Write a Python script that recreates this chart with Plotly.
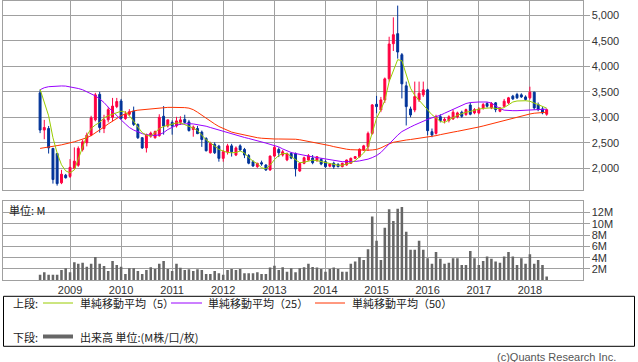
import pandas as pd
import plotly.graph_objects as go

W, H = 638, 362

# ---- data (monthly, Jun 2008 - May 2018) ----
months = pd.date_range("2008-06-01", periods=120, freq="MS").strftime("%Y-%m-%d").tolist()

opens = [3480, 2750, 2780, 2390, 2290, 1715, 1865, 1840, 2000, 2060,
         2370, 2500, 2650, 2950, 3450, 2780, 2950, 3000, 3210, 3320,
         2975, 3060, 3125, 2860, 2600, 2400, 2630, 2600, 2640, 3020,
         2830, 2900, 2830, 2900, 2960, 2910, 2760, 2780, 2710, 2585,
         2305, 2470, 2435, 2195, 2324, 2440, 2260, 2440, 2370, 2250,
         2130, 2032, 2110, 2065, 1968, 2240, 2370, 2260, 2165, 2290,
         2290, 1948, 2097, 2162, 2200, 2150, 2175, 2130, 2040, 2100,
         2078, 2032, 2065, 2098, 2196, 2229, 2357, 2425, 2685, 3256,
         3144, 3341, 3754, 4443, 4640, 4227, 3617, 3164, 3144, 3341,
         3440, 3538, 2718, 2685, 3013, 2935, 2940, 2967, 3007, 3100,
         3053, 3240, 3086, 3086, 3184, 3270, 3184, 3283, 3118, 3217,
         3283, 3415, 3447, 3440, 3400, 3382, 3493, 3250, 3165, 3060]
highs = [3540, 2950, 2830, 2400, 2300, 1970, 1890, 2180, 2410, 2430,
         2560, 2700, 3030, 3480, 3500, 3050, 3200, 3380, 3380, 3360,
         3120, 3160, 3210, 2880, 2610, 2680, 2720, 2740, 3060, 3220,
         2900, 2940, 3010, 3020, 3050, 2950, 2840, 2830, 2740, 2610,
         2520, 2510, 2460, 2360, 2480, 2480, 2430, 2470, 2400, 2280,
         2160, 2110, 2150, 2080, 2250, 2450, 2410, 2360, 2310, 2320,
         2310, 2120, 2230, 2280, 2260, 2240, 2200, 2160, 2100, 2130,
         2100, 2110, 2170, 2210, 2240, 2390, 2460, 2720, 3260, 3420,
         3400, 3780, 4580, 4960, 5190, 4260, 3700, 3210, 3700, 3700,
         3700, 3560, 2780, 3050, 3060, 3000, 3040, 3150, 3110, 3130,
         3170, 3290, 3180, 3200, 3280, 3300, 3300, 3300, 3200, 3360,
         3400, 3440, 3480, 3470, 3430, 3600, 3500, 3290, 3200, 3170]
lows = [2690, 2570, 2290, 1700, 1660, 1690, 1800, 1810, 1980, 2030,
        2330, 2430, 2630, 2920, 2700, 2690, 2900, 2920, 3180, 2960,
        2950, 3030, 2830, 2575, 2380, 2310, 2600, 2580, 2620, 2660,
        2800, 2660, 2800, 2850, 2880, 2720, 2620, 2670, 2420, 2330,
        2290, 2280, 2130, 2130, 2270, 2230, 2240, 2340, 2200, 2080,
        2030, 2010, 2050, 1950, 1950, 2220, 2220, 2230, 2140, 2180,
        1840, 1930, 2080, 2150, 2080, 2130, 2060, 2010, 2020, 1990,
        2020, 2020, 2050, 2090, 2180, 2210, 2340, 2340, 2660, 3080,
        3100, 3280, 3700, 4300, 4150, 3370, 2840, 3000, 3100, 3300,
        3400, 2650, 2610, 2660, 2900, 2880, 2900, 2950, 2980, 2990,
        3030, 3040, 3060, 3060, 3150, 3190, 3160, 3100, 3100, 3200,
        3260, 3340, 3360, 3380, 3330, 3350, 3150, 3120, 3060, 3030]
closes = [2750, 2800, 2400, 1780, 1700, 1885, 1815, 2020, 2140, 2390,
          2520, 2650, 2990, 3440, 2800, 2950, 3150, 3220, 3310, 2980,
          3060, 3110, 2860, 2600, 2400, 2660, 2690, 2720, 3000, 2830,
          2950, 2830, 2930, 2950, 2900, 2740, 2810, 2680, 2565, 2345,
          2490, 2305, 2195, 2325, 2440, 2325, 2400, 2360, 2260, 2100,
          2045, 2097, 2085, 1968, 2240, 2410, 2305, 2325, 2290, 2200,
          1990, 2097, 2208, 2246, 2110, 2227, 2084, 2032, 2085, 2032,
          2032, 2098, 2163, 2196, 2229, 2373, 2440, 2685, 3243, 3210,
          3341, 3754, 4437, 4620, 4280, 3656, 3210, 3046, 3407, 3472,
          3538, 2738, 2653, 3013, 2935, 2960, 3010, 3100, 3086, 3020,
          3151, 3060, 3151, 3165, 3250, 3217, 3270, 3151, 3184, 3316,
          3382, 3362, 3382, 3400, 3350, 3493, 3184, 3151, 3086, 3150]

ma5 = [3550, 3300, 3030, 2600, 2300, 2070, 1950, 1910, 1970, 2180,
       2420, 2640, 2780, 2850, 2900, 2990, 3030, 3060, 3090, 3120,
       3100, 3030, 2920, 2800, 2700, 2650, 2630, 2700, 2780, 2820,
       2840, 2870, 2890, 2890, 2860, 2820, 2790, 2740, 2640, 2560,
       2500, 2430, 2370, 2340, 2310, 2305, 2310, 2340, 2300, 2210,
       2140, 2090, 2010, 1990, 2060, 2170, 2250, 2290, 2290, 2230,
       2160, 2110, 2120, 2140, 2160, 2150, 2130, 2110, 2090, 2070,
       2060, 2060, 2080, 2110, 2150, 2220, 2300, 2420, 2700, 2980,
       3150, 3330, 3700, 3910, 4130, 4110, 3830, 3570, 3430, 3330,
       3250, 3140, 3050, 2990, 2920, 2900, 2950, 3000, 3040, 3070,
       3100, 3115, 3140, 3160, 3175, 3185, 3185, 3175, 3170, 3190,
       3250, 3300, 3320, 3325, 3325, 3315, 3280, 3235, 3200, 3180]
ma25 = [3540, 3580, 3600, 3610, 3615, 3615, 3612, 3600, 3585, 3565,
        3540, 3505, 3465, 3420, 3360, 3290, 3200, 3110, 3030, 2950,
        2870, 2800, 2750, 2710, 2680, 2660, 2645, 2640, 2660, 2700,
        2760, 2810, 2845, 2865, 2872, 2875, 2870, 2860, 2845, 2825,
        2800, 2775, 2745, 2715, 2690, 2665, 2645, 2625, 2605, 2585,
        2565, 2545, 2520, 2495, 2470, 2450, 2420, 2380, 2340, 2310,
        2290, 2270, 2255, 2240, 2225, 2210, 2195, 2180, 2160, 2145,
        2135, 2130, 2130, 2130, 2135, 2145, 2160, 2180, 2210, 2250,
        2310, 2390, 2480, 2580, 2650, 2720, 2770, 2810, 2850, 2890,
        2930, 2960, 2990, 3010, 3040, 3080, 3120, 3160, 3200, 3240,
        3270, 3290, 3300, 3300, 3300, 3300, 3280, 3230, 3170, 3140,
        3130, 3130, 3130, 3135, 3140, 3145, 3155, 3160, 3160, 3160]
ma50 = [2390, 2400, 2415, 2430, 2445, 2460, 2475, 2500, 2520, 2545,
        2570, 2600, 2640, 2690, 2750, 2810, 2870, 2930, 2980, 3030,
        3070, 3100, 3125, 3140, 3150, 3160, 3170, 3180, 3185, 3190,
        3195, 3195, 3195, 3195, 3190, 3180, 3150, 3100, 3040, 2980,
        2920, 2870, 2820, 2780, 2740, 2710, 2690, 2670, 2650, 2630,
        2615, 2600, 2590, 2580, 2575, 2575, 2575, 2575, 2575, 2575,
        2570, 2560, 2545, 2530, 2515, 2500, 2485, 2465, 2445, 2425,
        2405, 2390, 2375, 2365, 2360, 2355, 2355, 2355, 2360, 2370,
        2400, 2440, 2480, 2510, 2530, 2545, 2555, 2565, 2575, 2590,
        2600, 2610, 2620, 2640, 2660, 2680, 2695, 2710, 2725, 2740,
        2755, 2770, 2790, 2810, 2830, 2850, 2870, 2895, 2920, 2945,
        2965, 2985, 3005, 3025, 3045, 3065, 3080, 3090, 3095, 3100]
volume_m = [0.95, 1.4, 0.95, 0.95, 0.95, 1.8, 2.1, 1.4, 3.2, 2.9,
            3.1, 2.4, 2.9, 4.1, 2.9, 2.5, 1.65, 3.4, 2.7, 2.4,
            1.1, 2.1, 2.1, 1.65, 1.1, 1.8, 2.3, 2.0, 2.9, 3.4,
            2.0, 1.65, 2.9, 2.2, 1.8, 1.95, 1.65, 1.95, 1.8, 1.1,
            1.1, 1.65, 1.25, 0.95, 1.8, 2.0, 1.8, 2.0, 1.25, 1.25,
            1.25, 1.4, 1.1, 1.1, 2.25, 2.55, 1.8, 2.3, 1.5, 2.1,
            1.4, 2.1, 2.3, 2.9, 2.35, 2.25, 2.0, 1.5, 2.0, 2.25,
            2.0, 1.5, 1.5, 2.9, 3.3, 4.1, 3.6, 5.5, 11.3, 7.0,
            3.6, 9.3, 12.6, 10.5, 12.7, 13.0, 8.6, 5.4, 5.4, 7.0,
            5.4, 3.9, 2.9, 5.0, 3.8, 2.9, 3.1, 3.9, 3.9, 2.7,
            2.7, 5.2, 3.9, 2.7, 3.4, 4.2, 3.8, 3.3, 3.1, 4.2,
            5.0, 4.2, 2.7, 3.9, 2.9, 4.6, 2.9, 3.6, 2.7, 0.65]

year_labels = ["2009", "2010", "2011", "2012", "2013", "2014", "2015", "2016", "2017", "2018"]
year_ticks = [y + "-01-01" for y in year_labels]
price_ticks = [2000, 2500, 3000, 3500, 4000, 4500, 5000]
price_tick_text = ["2,000", "2,500", "3,000", "3,500", "4,000", "4,500", "5,000"]
vol_ticks = [2, 4, 6, 8, 10, 12]
vol_tick_text = ["2M", "4M", "6M", "8M", "10M", "12M"]

legend_labels = ["単純移動平均（5）", "単純移動平均（25）", "単純移動平均（50）"]
legend_colors = ["#99cc00", "#9900ff", "#ff3300"]

# ---- helpers: pixel -> paper ----
def px(x):
    return x / W

def py(y):
    return 1 - y / H

GRID = "#a0a0a0"
FONT = "Liberation Sans, Arial, sans-serif"
JFONT = "Noto Sans CJK JP, sans-serif"
TXT = "#222222"

fig = go.Figure()

fig.add_trace(go.Candlestick(
    x=months, open=opens, high=highs, low=lows, close=closes,
    increasing=dict(line=dict(color="#ff0040", width=1), fillcolor="#ff0040"),
    decreasing=dict(line=dict(color="#003399", width=1), fillcolor="#003399"),
    whiskerwidth=0, xaxis="x", yaxis="y", showlegend=False, hoverinfo="skip"))

for vals, col in zip([ma50, ma25, ma5], [legend_colors[2], legend_colors[1], legend_colors[0]]):
    fig.add_trace(go.Scatter(x=months, y=vals, mode="lines",
                             line=dict(color=col, width=1),
                             xaxis="x", yaxis="y", showlegend=False, hoverinfo="skip"))

fig.add_trace(go.Bar(x=months, y=volume_m, marker=dict(color="#666666", line=dict(width=0)),
                     xaxis="x2", yaxis="y2", showlegend=False, hoverinfo="skip"))

xr = ["2007-09-10", "2019-01-12"]
common_x = dict(type="date", range=xr, showgrid=True, gridcolor=GRID, gridwidth=1,
                tickmode="array", tickvals=year_ticks, ticktext=year_labels,
                showline=True, linecolor=GRID, linewidth=1, mirror=True,
                zeroline=False, ticks="", fixedrange=True)

fig.update_layout(
    width=W, height=H, margin=dict(l=0, r=0, t=0, b=0),
    paper_bgcolor="white", plot_bgcolor="white",
    bargap=0.35, showlegend=False,
    xaxis=dict(common_x, domain=[px(3), px(582.5)], anchor="y",
               showticklabels=False, rangeslider=dict(visible=False)),
    yaxis=dict(domain=[py(190.3), py(0.5)], range=[1569, 5290], side="right",
               anchor="x", tickvals=price_ticks, ticktext=price_tick_text,
               showgrid=True, gridcolor=GRID, gridwidth=1,
               showline=True, linecolor=GRID, mirror=True, zeroline=False,
               ticks="outside", ticklen=6, tickcolor=GRID, fixedrange=True,
               tickfont=dict(family=FONT, size=11, color="#333333")),
    xaxis2=dict(common_x, domain=[px(3), px(582.5)], anchor="y2", matches="x",
                showticklabels=True,
                tickfont=dict(family=FONT, size=11, color="#333333")),
    yaxis2=dict(domain=[py(280.2), py(201.3)], range=[0, 14], side="right",
                anchor="x2", tickvals=vol_ticks, ticktext=vol_tick_text,
                showgrid=True, gridcolor=GRID, gridwidth=1,
                showline=True, linecolor=GRID, mirror=True, zeroline=False,
                ticks="outside", ticklen=6, tickcolor=GRID, fixedrange=True,
                tickfont=dict(family=FONT, size=11, color="#333333")),
)

shapes = []
annots = []
# legend box
shapes.append(dict(type="rect", xref="paper", yref="paper",
                   x0=px(3.5), x1=px(634.5), y0=py(346.3), y1=py(296.3),
                   line=dict(color="#000000", width=1)))
annots.append(dict(text="上段:", x=px(11), y=py(303), xref="paper", yref="paper",
                   xanchor="left", yanchor="middle", showarrow=False,
                   font=dict(family=JFONT, size=11, color=TXT)))
annots.append(dict(text="下段:", x=px(11), y=py(336.5), xref="paper", yref="paper",
                   xanchor="left", yanchor="middle", showarrow=False,
                   font=dict(family=JFONT, size=11, color=TXT)))
leg_x = [(43, 73, 78), (171, 202, 206), (315, 345, 350)]
for (x0, x1, xt), lab, col in zip(leg_x, legend_labels, legend_colors):
    shapes.append(dict(type="line", xref="paper", yref="paper",
                       x0=px(x0), x1=px(x1), y0=py(303), y1=py(303),
                       line=dict(color=col, width=1)))
    annots.append(dict(text=lab, x=px(xt), y=py(303), xref="paper", yref="paper",
                       xanchor="left", yanchor="middle", showarrow=False,
                       font=dict(family=JFONT, size=11, color=TXT)))
shapes.append(dict(type="line", xref="paper", yref="paper",
                   x0=px(43), x1=px(73), y0=py(336.5), y1=py(336.5),
                   line=dict(color="#666666", width=4)))
annots.append(dict(text="出来高 単位:(M株/口/枚)", x=px(78), y=py(336.5),
                   xref="paper", yref="paper", xanchor="left", yanchor="middle",
                   showarrow=False, font=dict(family=JFONT, size=11, color=TXT)))
annots.append(dict(text="単位: M", x=px(7), y=py(209.5), xref="paper", yref="paper",
                   xanchor="left", yanchor="middle", showarrow=False,
                   font=dict(family=JFONT, size=11, color=TXT)))
annots.append(dict(text="(c)Quants Research Inc.", x=px(618), y=py(356.5),
                   xref="paper", yref="paper", xanchor="right", yanchor="middle",
                   showarrow=False, font=dict(family=FONT, size=11, color="#555555")))

fig.update_layout(shapes=shapes, annotations=annots)

# remove the default 8px page margin so the figure fills the window exactly
fig.write_html("out.html", config={"displayModeBar": False, "staticPlot": True},
               post_script="document.body.style.margin='0';")
